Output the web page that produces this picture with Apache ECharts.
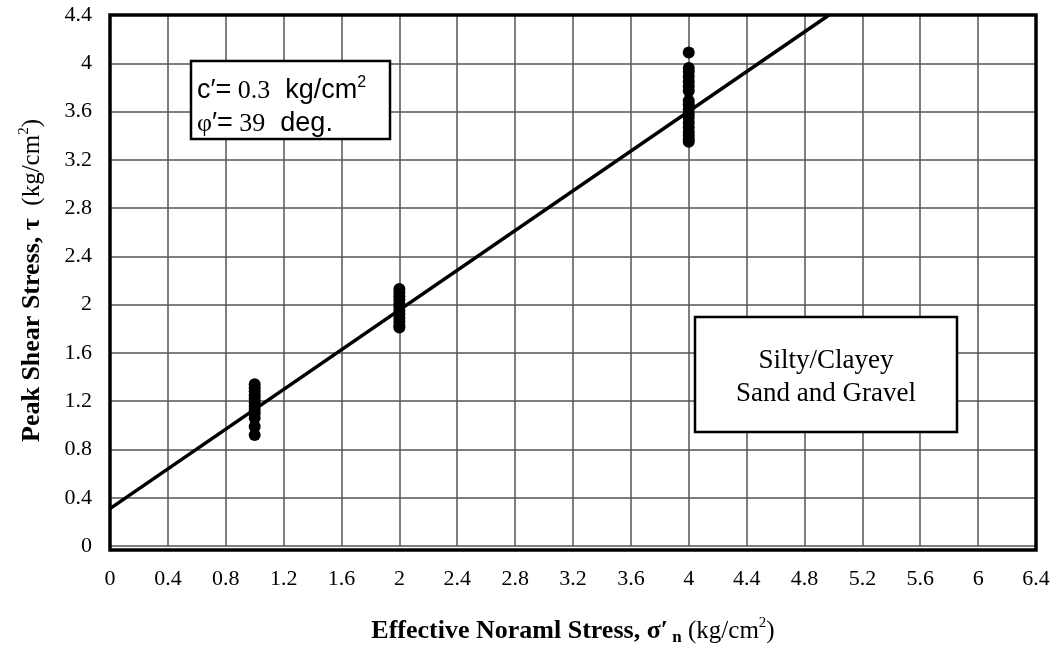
<!DOCTYPE html>
<html>
<head>
<meta charset="utf-8">
<script src="https://cdn.jsdelivr.net/npm/echarts@6/dist/echarts.min.js"></script>
<style>
html,body{margin:0;padding:0;background:#fff;}
#chart{width:1055px;height:651px;}
</style>
</head>
<body>
<div id="chart"></div>
<script>
// ---- data ----
const normalStress = [1, 2, 4];
const shearAt1 = [1.34, 1.31, 1.28, 1.25, 1.22, 1.19, 1.16, 1.13, 1.10, 1.06, 0.99, 0.92];
const shearAt2 = [2.13, 2.10, 2.07, 2.04, 2.01, 1.98, 1.95, 1.92, 1.89, 1.86, 1.83, 1.81];
const shearAt4 = [4.09, 3.96, 3.93, 3.89, 3.85, 3.81, 3.77, 3.69, 3.66, 3.62, 3.58, 3.55, 3.51, 3.47, 3.43, 3.40, 3.37, 3.35];
const fitX = [0, 4.97];
const fitY = [0.31, 4.4];
const xTicks = [0, 6.4, 0.4];   // min, max, interval
const yTicks = [0, 4.4, 0.4];

const serif = '"Liberation Serif", "Times New Roman", serif';
const sans = '"Liberation Sans", Arial, sans-serif';

const points = [];
[shearAt1, shearAt2, shearAt4].forEach((arr, i) => {
  arr.forEach(v => points.push([normalStress[i], v]));
});
const fitLine = fitX.map((x, i) => [x, fitY[i]]);

const chart = echarts.init(document.getElementById('chart'), null, {renderer: 'canvas'});

const G = {left: 110, top: 15, right: 19, bottom: 101};
const gw = 1055 - G.left - G.right, gh = 651 - G.top - G.bottom;

chart.setOption({
  animation: false,
  backgroundColor: '#fff',
  grid: {left: G.left, top: G.top, right: G.right, bottom: G.bottom, containLabel: false},
  xAxis: {
    type: 'value', min: xTicks[0], max: xTicks[1], interval: xTicks[2],
    axisLine: {show: false}, axisTick: {show: false},
    splitLine: {show: true, lineStyle: {color: '#555', width: 1.5}},
    axisLabel: {color: '#000', fontFamily: serif, fontSize: 22, margin: 22},
    name: '{b|Effective Noraml Stress, σ′}{bs| n}{r| (kg/cm}{s|2}{r|)}',
    nameLocation: 'middle', nameGap: 70,
    nameTextStyle: {
      color: '#000', fontFamily: serif, fontSize: 26,
      rich: {
        b: {fontFamily: serif, fontSize: 26, fontWeight: 'bold', color: '#000', lineHeight: 30},
        bs: {fontFamily: serif, fontSize: 17, fontWeight: 'bold', color: '#000', verticalAlign: 'bottom', lineHeight: 22},
        r: {fontFamily: serif, fontSize: 25, color: '#000', lineHeight: 30},
        s: {fontFamily: serif, fontSize: 15, color: '#000', verticalAlign: 'top', lineHeight: 15}
      }
    }
  },
  yAxis: {
    type: 'value', min: yTicks[0], max: yTicks[1], interval: yTicks[2],
    axisLine: {show: false}, axisTick: {show: false},
    splitLine: {show: true, lineStyle: {color: '#555', width: 1.5}},
    axisLabel: {color: '#000', fontFamily: serif, fontSize: 22, margin: 18},
    name: '{b|Peak Shear Stress, τ}{r|  (kg/cm}{s|2}{r|)}',
    nameLocation: 'middle', nameGap: 63, nameRotate: 90,
    nameTextStyle: {
      color: '#000', fontFamily: serif, fontSize: 26,
      rich: {
        b: {fontFamily: serif, fontSize: 26, fontWeight: 'bold', color: '#000', lineHeight: 30},
        r: {fontFamily: serif, fontSize: 25, color: '#000', lineHeight: 30},
        s: {fontFamily: serif, fontSize: 15, color: '#000', verticalAlign: 'top', lineHeight: 15}
      }
    }
  },
  series: [
    {
      type: 'line', data: fitLine, showSymbol: false, symbol: 'none',
      lineStyle: {color: '#000', width: 3.5}, z: 3
    },
    {
      type: 'scatter', data: points, symbol: 'circle', symbolSize: 12,
      itemStyle: {color: '#000', opacity: 1}, z: 4
    }
  ],
  graphic: [
    {
      type: 'rect', z: 100, silent: true,
      shape: {x: G.left, y: G.top, width: gw, height: gh},
      style: {fill: 'none', stroke: '#000', lineWidth: 3.5}
    },
    {
      type: 'rect', z: 101, silent: true,
      shape: {x: 191, y: 61, width: 199, height: 78},
      style: {fill: '#fff', stroke: '#000', lineWidth: 2.5}
    },
    {
      type: 'text', z: 102, silent: true, x: 197, y: 74.5,
      style: {
        text: '{a|c′=}{t| 0.3}{a|  kg/cm}{s|2}\n{t|φ}{a|′=}{t| 39}{a|  deg.}',
        verticalAlign: 'top', align: 'left',
        rich: {
          a: {fontFamily: sans, fontSize: 27, fill: '#000', lineHeight: 33},
          t: {fontFamily: serif, fontSize: 26, fill: '#000', lineHeight: 33},
          s: {fontFamily: sans, fontSize: 16, fill: '#000', verticalAlign: 'top', lineHeight: 16}
        }
      }
    },
    {
      type: 'rect', z: 101, silent: true,
      shape: {x: 695, y: 317, width: 262, height: 115},
      style: {fill: '#fff', stroke: '#000', lineWidth: 2.5}
    },
    {
      type: 'text', z: 102, silent: true, x: 826, y: 344,
      style: {
        text: 'Silty/Clayey\nSand and Gravel',
        fontFamily: serif, fontSize: 27, lineHeight: 33, fill: '#000',
        align: 'center', verticalAlign: 'top'
      }
    }
  ]
});
</script>
</body>
</html>
